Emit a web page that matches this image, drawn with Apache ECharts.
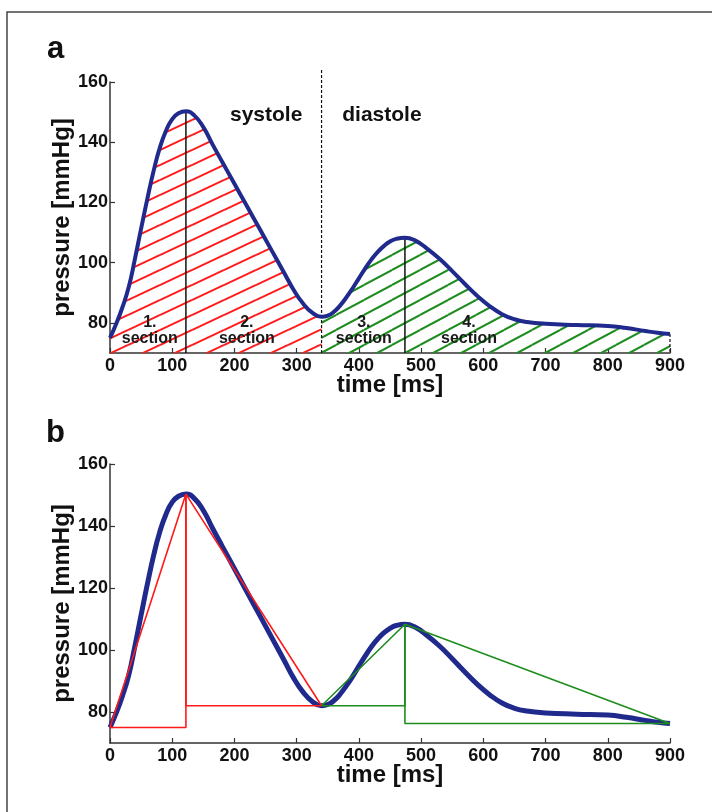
<!DOCTYPE html>
<html>
<head>
<meta charset="utf-8">
<script src="https://cdn.jsdelivr.net/npm/echarts@6/dist/echarts.min.js"></script>
<style>
  html, body { margin: 0; padding: 0; background: #fff; }
  #chart { width: 712px; height: 812px; }
</style>
</head>
<body>
<div id="chart"></div>
<script>
// ---- data ----
const timeMs = [0, 10, 20, 30, 40, 50, 60, 70, 80, 90, 100, 110, 122, 135, 150, 165, 180, 200, 220, 240, 260, 280, 295, 310, 325, 340,
                350, 360, 370, 380, 390, 400, 410, 420, 430, 440, 450, 460, 474, 490, 510, 530, 550, 570, 590, 610, 630, 650, 670, 700, 750, 800, 830, 860, 880, 900];
const pressure = [75, 79.7, 85.2, 91.8, 101.2, 111.3, 121.2, 130.4, 138.1, 143.8, 147.7, 149.6, 150.3, 149.0, 145.0, 139.2, 133.6, 126.2, 118.8, 111.4, 104.0, 96.6, 91.0, 86.5, 83.4, 82.0,
                  82.4, 83.7, 85.8, 88.5, 91.5, 94.8, 98.0, 101.0, 103.5, 105.5, 107.0, 107.9, 108.3, 107.4, 104.6, 101.2, 97.2, 93.0, 89.0, 85.6, 82.9, 81.2, 80.3, 79.7, 79.3, 79.0, 78.3, 77.3, 76.7, 76.3];
const systoleEnd = 340;          // ms, boundary systole / diastole
const startPoint = [0, 75];
const peak1 = [122, 150.3];
const trough = [340, 82];
const peak2 = [474, 108.3];
const endPoint = [900, 76.3];
const yTicks = [80, 100, 120, 140, 160];
const sectionTimes = [64, 220, 408, 577];
const sectionNames = ['1.\nsection', '2.\nsection', '3.\nsection', '4.\nsection'];
const sectionLevel = 77.5;
const phaseLabels = [[251, 148.9, 'systole'], [437, 148.9, 'diastole']];

// ---- build ----
const curve = timeMs.map((t, i) => [t, pressure[i]]);
const sysCurve = curve.filter(d => d[0] <= systoleEnd);
const diaCurve = curve.filter(d => d[0] >= systoleEnd);

function hatch(color, w, d) {
  const c = document.createElement('canvas');
  c.width = w; c.height = d;
  const ctx = c.getContext('2d');
  ctx.strokeStyle = color; ctx.lineWidth = 2;
  for (let k = -1; k <= 1; k++) {
    ctx.beginPath(); ctx.moveTo(0, d + k * d); ctx.lineTo(w, k * d); ctx.stroke();
  }
  return c;
}

const FONT = 'Liberation Sans, Arial, sans-serif';
const BLUE = '#1f2a8c';
const RED = '#ff1a1a';
const GREEN = '#1e8c1e';
const SMOOTH = 0.5;

function xAxisCfg(grid) {
  return {
    type: 'value', gridIndex: grid, min: 0, max: 900, interval: 100,
    axisLine: { show: true, onZero: false, lineStyle: { color: '#333', width: 1.5 } },
    axisTick: { show: true, inside: true, length: 5, lineStyle: { color: '#333', width: 1.2 } },
    axisLabel: { fontSize: 18, fontWeight: 'bold', color: '#111', margin: 4, fontFamily: FONT },
    splitLine: { show: false },
    name: 'time [ms]', nameLocation: 'middle', nameGap: 20, nameMoveOverlap: false,
    nameTextStyle: { fontSize: 24, fontWeight: 'bold', color: '#111', fontFamily: FONT }
  };
}
function yAxisCfg(grid) {
  return {
    type: 'value', gridIndex: grid, min: 70, max: 160,
    axisLine: { show: true, onZero: false, lineStyle: { color: '#333', width: 1.5 } },
    axisTick: { show: true, inside: true, length: 5, customValues: yTicks, lineStyle: { color: '#333', width: 1.2 } },
    axisLabel: { customValues: yTicks, fontSize: 18, fontWeight: 'bold', color: '#111', margin: 2, fontFamily: FONT },
    splitLine: { show: false },
    name: 'pressure [mmHg]', nameLocation: 'middle', nameGap: 36, nameMoveOverlap: false,
    nameTextStyle: { fontSize: 24, fontWeight: 'bold', color: '#111', fontFamily: FONT }
  };
}

function seg(points, color, width, grid, type, clip) {
  return {
    type: 'line', xAxisIndex: grid, yAxisIndex: grid, data: points, symbol: 'none',
    lineStyle: { color: color, width: width, type: type || 'solid' }, silent: true,
    clip: clip !== false, animation: false, z: 3
  };
}

function textSeries(items, size, color) {
  return {
    type: 'scatter', xAxisIndex: 0, yAxisIndex: 0, symbolSize: 0, z: 5, silent: true,
    itemStyle: { opacity: 1 },
    data: items,
    label: { show: true, position: 'inside', formatter: p => p.name, fontSize: size, fontWeight: 'bold',
             color: color, lineHeight: size, fontFamily: FONT, opacity: 1 }
  };
}

const series = [
  // ---- panel a ----
  { type: 'line', xAxisIndex: 0, yAxisIndex: 0, data: sysCurve, smooth: SMOOTH, symbol: 'none',
    lineStyle: { width: 0 }, areaStyle: { origin: 'start', color: { image: hatch(RED, 32, 15), repeat: 'repeat' }, opacity: 1 }, z: 1 },
  { type: 'line', xAxisIndex: 0, yAxisIndex: 0, data: diaCurve, smooth: SMOOTH, symbol: 'none',
    lineStyle: { width: 0 }, areaStyle: { origin: 'start', color: { image: hatch(GREEN, 28, 15), repeat: 'repeat' }, opacity: 1 }, z: 1 },
  seg([[peak1[0], peak1[1]], [peak1[0], 70]], '#111', 1.5, 0),
  seg([[peak2[0], peak2[1]], [peak2[0], 70]], '#111', 1.5, 0),
  seg([[systoleEnd, 70], [systoleEnd, 164.5]], '#111', 1.2, 0, [3, 2], false),
  seg([[endPoint[0], endPoint[1]], [endPoint[0], 70]], '#111', 1.2, 0, [3, 2], false),
  { type: 'line', xAxisIndex: 0, yAxisIndex: 0, data: curve, smooth: SMOOTH, symbol: 'none',
    lineStyle: { color: BLUE, width: 4 }, z: 4 },
  textSeries(sectionTimes.map((t, i) => ({ value: [t, sectionLevel], name: sectionNames[i] })), 16, '#1a1a1a'),
  textSeries(phaseLabels.map(d => ({ value: [d[0], d[1]], name: d[2] })), 21, '#111'),
  // ---- panel b ----
  { type: 'line', xAxisIndex: 1, yAxisIndex: 1, data: curve, smooth: SMOOTH, symbol: 'none',
    lineStyle: { color: BLUE, width: 5 }, z: 2 },
  seg([startPoint, peak1, [peak1[0], startPoint[1]], startPoint], RED, 1.6, 1),
  seg([peak1, trough, [peak1[0], trough[1]], peak1], RED, 1.6, 1),
  seg([trough, peak2, [peak2[0], trough[1]], trough], GREEN, 1.6, 1),
  seg([peak2, endPoint, [peak2[0], endPoint[1]], peak2], GREEN, 1.6, 1)
];

const chart = echarts.init(document.getElementById('chart'), null, { renderer: 'canvas' });
chart.setOption({
  animation: false,
  backgroundColor: '#fff',
  textStyle: { fontFamily: FONT },
  grid: [
    { left: 110, top: 82, width: 560, height: 271 },
    { left: 110, top: 464, width: 560, height: 279 }
  ],
  xAxis: [xAxisCfg(0), xAxisCfg(1)],
  yAxis: [yAxisCfg(0), yAxisCfg(1)],
  series: series,
  graphic: [
    { type: 'rect', shape: { x: 7, y: 12, width: 712, height: 812 }, style: { fill: 'none', stroke: '#444', lineWidth: 1.5 }, silent: true },
    { type: 'text', x: 47, y: 65, style: { text: 'a', fontSize: 31, fontWeight: 'bold', fill: '#111', fontFamily: FONT, verticalAlign: 'bottom' } },
    { type: 'text', x: 46, y: 449, style: { text: 'b', fontSize: 31, fontWeight: 'bold', fill: '#111', fontFamily: FONT, verticalAlign: 'bottom' } }
  ]
});
</script>
</body>
</html>
